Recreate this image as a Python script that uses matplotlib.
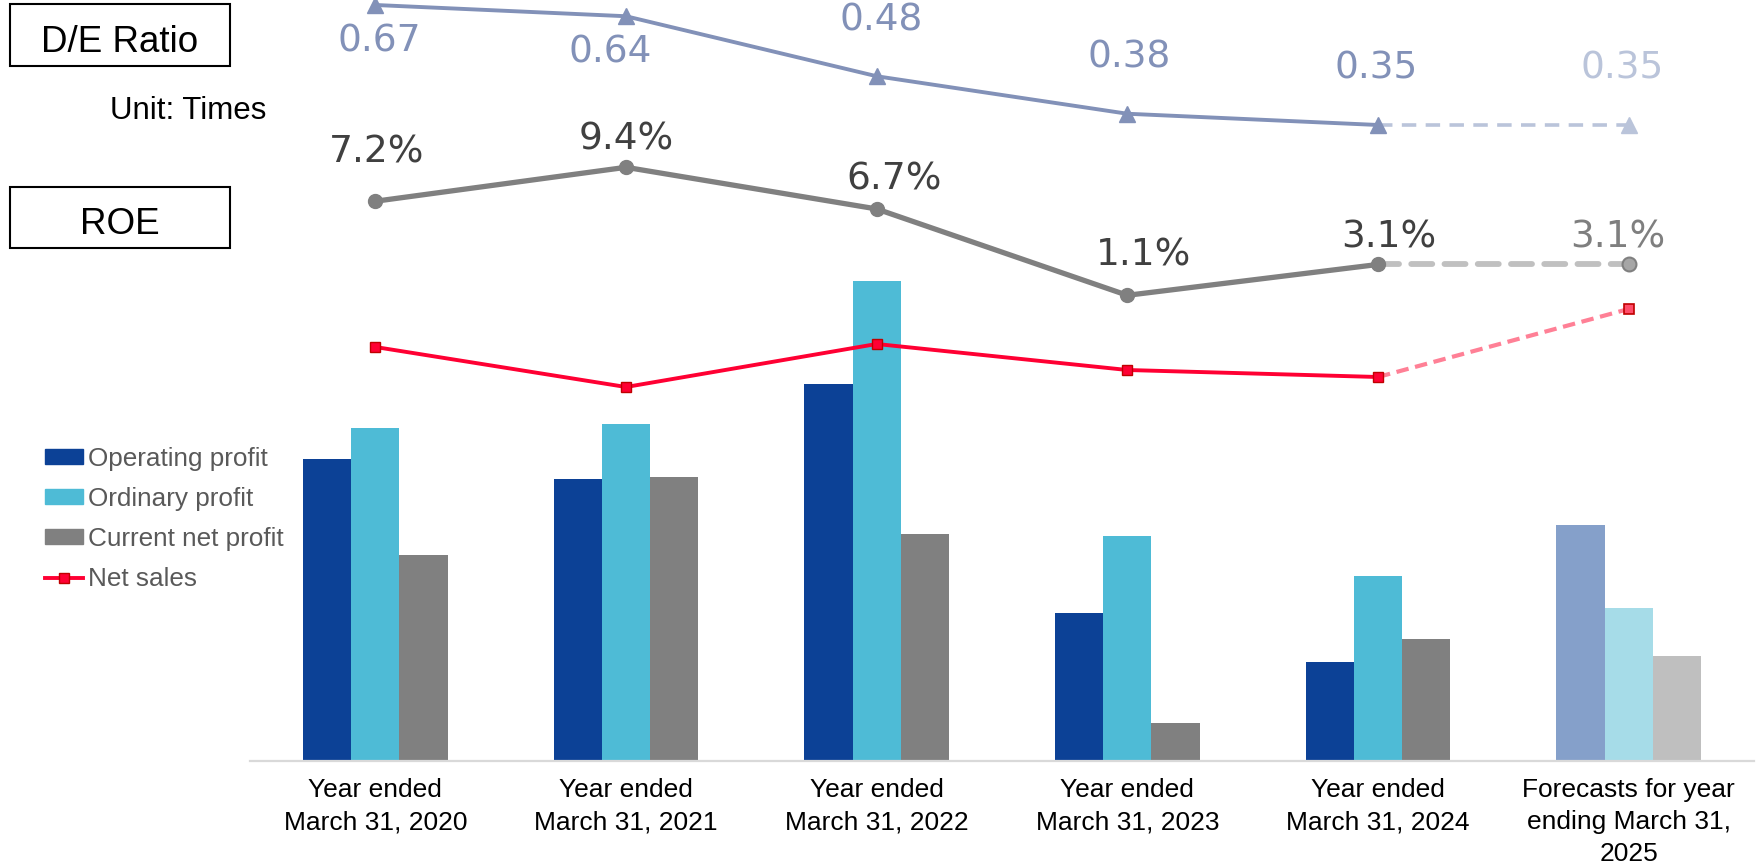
import numpy as np
import matplotlib
matplotlib.use("Agg")
import matplotlib.pyplot as plt
from matplotlib.patches import Rectangle, Patch
from matplotlib.lines import Line2D

plt.rcParams['font.family'] = ['Liberation Sans', 'DejaVu Sans']

# ---------------------------------------------
# Données
# ---------------------------------------------
categories = [
    "Year ended\nMarch 31, 2020",
    "Year ended\nMarch 31, 2021",
    "Year ended\nMarch 31, 2022",
    "Year ended\nMarch 31, 2023",
    "Year ended\nMarch 31, 2024",
    "Forecasts for year\nending March 31,\n2025",
]
operating_profit = [30.2, 28.2, 37.7, 14.8, 9.9, 23.6]
ordinary_profit = [33.3, 33.7, 48.0, 22.5, 18.5, 15.3]
net_profit = [20.6, 28.4, 22.7, 3.8, 12.2, 10.5]
net_sales = [414, 374, 417, 391, 384, 452]
roe = [7.2, 9.4, 6.7, 1.1, 3.1, 3.1]
de_ratio = [0.67, 0.64, 0.48, 0.38, 0.35, 0.35]

# ---------------------------------------------
# Couleurs (réel / prévision)
# ---------------------------------------------
c_op, c_op_fc = '#0C4196', '#85A0CA'
c_ord, c_ord_fc = '#4EBBD6', '#A6DCE8'
c_net, c_net_fc = '#808080', '#BFBFBF'
c_sales, c_sales_fc = '#FF0033', '#FF8096'
c_de, c_de_fc = '#8291B8', '#BAC4DA'
c_roe, c_roe_fc = '#808080', '#C0C0C0'

x = np.arange(len(categories))
n_act = len(categories) - 1   # la dernière colonne est une prévision
w = 0.1927

fig = plt.figure(figsize=(17.58, 8.63), dpi=100)
ax = fig.add_axes([250 / 1758, 102 / 863, 1504 / 1758, 761 / 863])

# Barres
def colors(c, c_fc):
    return [c] * n_act + [c_fc]

ax.bar(x - w, operating_profit, w, color=colors(c_op, c_op_fc))
ax.bar(x, ordinary_profit, w, color=colors(c_ord, c_ord_fc))
ax.bar(x + w, net_profit, w, color=colors(c_net, c_net_fc))
ax.set_xlim(-0.5, 5.5)
ax.set_ylim(0, 76.1)

for s in ['top', 'left', 'right']:
    ax.spines[s].set_visible(False)
ax.spines['bottom'].set_color('#D9D9D9')
ax.spines['bottom'].set_linewidth(1.6)
ax.set_yticks([])
ax.set_xticks(x, categories, fontsize=19, linespacing=1.44)
ax.tick_params(axis='x', length=0, pad=12)


def overlay():
    a = ax.twinx()
    a.set_axis_off()
    return a


# Chiffre d'affaires
ax_sales = overlay()
ax_sales.set_ylim(0, 761)
ax_sales.plot(x[n_act - 1:], net_sales[n_act - 1:], color=c_sales_fc, lw=3,
              ls=(0, (3, 1.6)))
ax_sales.plot(x[:n_act], net_sales[:n_act], color=c_sales, lw=2.8, marker='s',
              ms=7, mfc=c_sales, mec='#C00000', mew=1)
ax_sales.plot(x[-1], net_sales[-1], marker='s', ms=7, mfc='#FF4D6A', mec='#C00000',
              mew=1.2, ls='none')

# ROE
ax_roe = overlay()
ax_roe.set_ylim(-29.1, 20.25)
ax_roe.plot(x[n_act - 1:], roe[n_act - 1:], color=c_roe_fc, lw=4.2,
            ls=(0, (3.6, 2.1)), dash_capstyle='round')
ax_roe.plot(x[:n_act], roe[:n_act], color=c_roe, lw=3.8, marker='o', ms=10)
ax_roe.plot(x[-1], roe[-1], marker='o', ms=10, mfc='#A6A6A6', mec='#808080',
            mew=1.5, ls='none')
roe_dx = [1, 0, 17, 16, 11, -11]
roe_dy = [39, 18, 19, 30, 17, 17]
for i, v in enumerate(roe):
    ax_roe.annotate(f"{v:.1f}%", (x[i], v), xytext=(roe_dx[i], roe_dy[i]),
                    textcoords='offset pixels', ha='center', va='baseline',
                    fontsize=27, family='DejaVu Sans',
                    color='#404040' if i < n_act else '#7F7F7F')

# Ratio D/E
ax_de = overlay()
ax_de.set_ylim(-1.346, 0.6833)
ax_de.plot(x[n_act - 1:], de_ratio[n_act - 1:], color=c_de_fc, lw=2.6,
           ls=(0, (4, 2.6)))
ax_de.plot(x[:n_act], de_ratio[:n_act], color=c_de, lw=2.8, marker='^', ms=11)
ax_de.plot(x[-1], de_ratio[-1], marker='^', ms=11, color=c_de_fc, ls='none')
de_dx = [4, -16, 5, 2, -2, -7]
de_dy = [-47, -46, 46, 46, 46, 46]
for i, v in enumerate(de_ratio):
    ax_de.annotate(f"{v:.2f}", (x[i], v), xytext=(de_dx[i], de_dy[i]),
                   textcoords='offset pixels', ha='center', va='baseline',
                   fontsize=27, family='DejaVu Sans',
                   color=c_de if i < n_act else c_de_fc)

# Encadrés à gauche
for y0, label, base in [(797, "D/E Ratio", 810.7), (614.7, "ROE", 629)]:
    fig.patches.append(Rectangle((10 / 1758, y0 / 863), 220 / 1758, 61.7 / 863,
                                 transform=fig.transFigure, fill=False,
                                 edgecolor='black', lw=1.5))
    fig.text(120 / 1758, base / 863, label, ha='center', va='baseline', fontsize=26.5)
fig.text(110 / 1758, 743.7 / 863, "Unit: Times", ha='left', va='baseline',
         fontsize=22.5)

# Légende
handles = [
    Patch(color=c_op, label="Operating profit"),
    Patch(color=c_ord, label="Ordinary profit"),
    Patch(color=c_net, label="Current net profit"),
    Line2D([], [], color=c_sales, lw=2.8, marker='s', ms=7, mec='#C00000',
           label="Net sales"),
]
leg = fig.legend(handles=handles, loc='upper left',
                 bbox_to_anchor=(45 / 1758, 1 - 446.7 / 863), frameon=False,
                 fontsize=18.8, labelcolor='#595959', handlelength=1.45,
                 handleheight=0.5, handletextpad=0.2, labelspacing=0.62,
                 borderpad=0, borderaxespad=0)

fig.savefig("out.png", dpi=100)
